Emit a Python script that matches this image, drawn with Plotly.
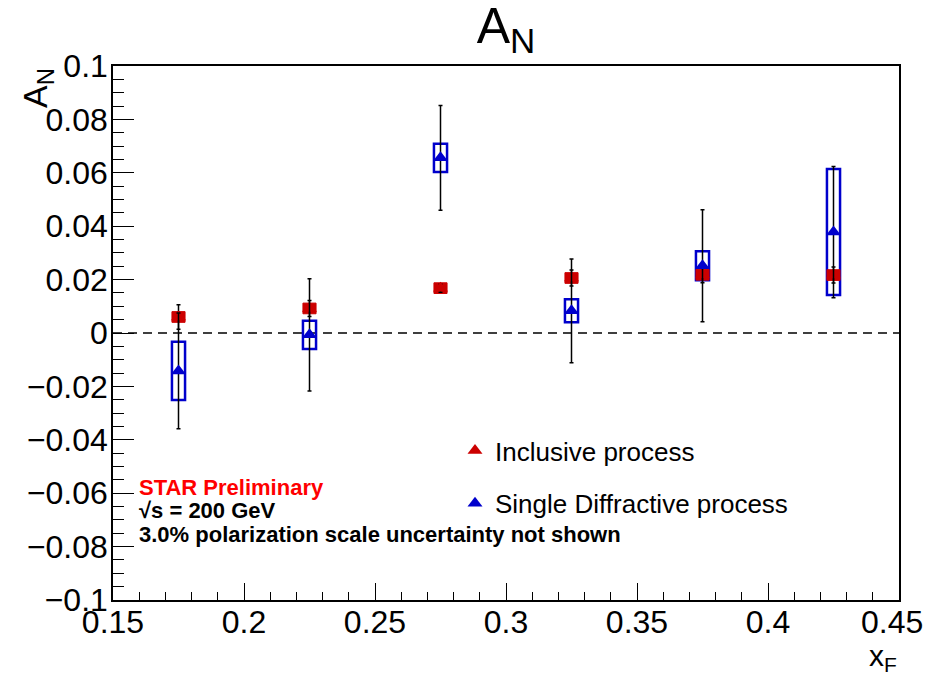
import plotly.graph_objects as go

# ---- data ----
xf = [0.175, 0.225, 0.275, 0.325, 0.375, 0.425]

incl_an = [0.0060, 0.0092, 0.0168, 0.0206, 0.0218, 0.0217]
incl_stat = [0.0046, 0.0030, 0.0015, 0.0030, 0.0030, 0.0030]
incl_sys = [0.0020, 0.0020, 0.0020, 0.0020, 0.0020, 0.0020]

sd_an = [-0.0142, -0.0007, 0.0656, 0.0083, 0.0252, 0.0378]
sd_stat = [0.0217, 0.0210, 0.0196, 0.0194, 0.0210, 0.0246]
sd_sys = [0.0109, 0.0053, 0.0053, 0.0043, 0.0054, 0.0236]

box_width = 0.005

xtick_vals = [0.15, 0.2, 0.25, 0.3, 0.35, 0.4, 0.45]
xtick_text = ["0.15", "0.2", "0.25", "0.3", "0.35", "0.4", "0.45"]
ytick_vals = [-0.1, -0.08, -0.06, -0.04, -0.02, 0, 0.02, 0.04, 0.06, 0.08, 0.1]
ytick_text = ["\u22120.1", "\u22120.08", "\u22120.06", "\u22120.04", "\u22120.02", "0",
              "0.02", "0.04", "0.06", "0.08", "0.1"]

RED = "#cc0000"
BLUE = "#0000cc"
FONT = "Liberation Sans, Arial, Helvetica, sans-serif"

# page has an 8px body margin on every side; keep the figure inside the viewport
OFF = 8
FW, FH = 935 - 2 * OFF, 684 - 2 * OFF

fig = go.Figure()

# systematic boxes (single diffractive: open blue boxes)
fig.add_trace(go.Bar(
    x=xf, y=[2 * s for s in sd_sys], base=[a - s for a, s in zip(sd_an, sd_sys)],
    width=box_width, marker=dict(color="rgba(0,0,0,0)", line=dict(color=BLUE, width=2.5)),
    showlegend=False, hoverinfo="skip"))
# systematic boxes (inclusive: filled red boxes)
fig.add_trace(go.Bar(
    x=xf, y=[2 * s for s in incl_sys], base=[a - s for a, s in zip(incl_an, incl_sys)],
    width=box_width, marker=dict(color=RED, line=dict(color=RED, width=1)),
    showlegend=False, hoverinfo="skip"))

fig.add_trace(go.Scatter(
    x=xf, y=incl_an, mode="markers", name="Inclusive process",
    legendgroup="a",
    marker=dict(symbol="triangle-up", size=13, color=RED),
    error_y=dict(type="data", array=incl_stat, color="black", thickness=1.5, width=2)))
fig.add_trace(go.Scatter(
    x=xf, y=sd_an, mode="markers", name="Single Diffractive process",
    legendgroup="b",
    marker=dict(symbol="triangle-up", size=13, color=BLUE),
    error_y=dict(type="data", array=sd_stat, color="black", thickness=1.5, width=2)))

# dashed zero line
fig.add_shape(type="line", xref="paper", x0=0, x1=1, yref="y", y0=0, y1=0,
              line=dict(color="black", width=1.5, dash="9px,6px"), layer="below")

axis_common = dict(showgrid=False, zeroline=False, showline=True, mirror=True,
                   linecolor="black", linewidth=1.5, ticks="inside", tickcolor="black",
                   tickwidth=1.2, tickfont=dict(family=FONT, size=32, color="black"))

# the last x label sits at the page edge: draw it as a right-aligned text instead
fig.update_xaxes(range=[0.15, 0.45], tickvals=xtick_vals,
                 ticktext=xtick_text[:-1] + [""],
                 ticklen=17, ticklabelstandoff=-7,
                 minor=dict(dtick=0.01, tick0=0.15, ticklen=8, ticks="inside",
                            tickcolor="black", tickwidth=1.2),
                 **axis_common)
fig.update_yaxes(range=[-0.1, 0.1], tickvals=ytick_vals, ticktext=ytick_text,
                 ticklen=21, ticklabelstandoff=-3,
                 minor=dict(dtick=0.005, tick0=0, ticklen=11, ticks="inside",
                            tickcolor="black", tickwidth=1.2),
                 **axis_common)

# plot area in page pixels: x 113..899, y 66..600
L, R, T, B = 113, 899, 66, 600
W, H = R - L, B - T

def px(xp):
    return (xp - L) / W

def py(yp):
    return (B - yp) / H

fig.add_annotation(xref="paper", yref="paper", x=px(925), y=py(622), xanchor="right",
                   yanchor="middle", showarrow=False, text=xtick_text[-1],
                   font=dict(family=FONT, size=32, color="black"))

annos = [
    dict(text="<b>STAR Preliminary</b>", y=487, color="#ff0000"),
    dict(text="<b>\u221As = 200 GeV</b>", y=510, color="black"),
    dict(text="<b>3.0% polarization scale uncertainty not shown</b>", y=534, color="black"),
]
for a in annos:
    fig.add_annotation(xref="paper", yref="paper", xanchor="left", yanchor="middle",
                       showarrow=False, x=px(137), y=py(a["y"]), text=a["text"],
                       font=dict(family=FONT, size=22, color=a["color"]))

# axis titles
fig.add_annotation(xref="paper", yref="paper", x=1.0, y=py(657), xanchor="right", yanchor="middle",
                   showarrow=False, text="x<sub>F</sub>",
                   font=dict(family=FONT, size=30, color="black"))
fig.add_annotation(xref="paper", yref="paper", x=px(37), y=py(88), xanchor="center", yanchor="middle",
                   showarrow=False, text="A<sub>N</sub>", textangle=-90,
                   font=dict(family=FONT, size=34, color="black"))

fig.update_layout(
    width=FW, height=FH,
    margin=dict(l=L - OFF, r=FW - (R - OFF), t=T - OFF, b=FH - (B - OFF)),
    paper_bgcolor="white", plot_bgcolor="white",
    barmode="overlay",
    title=dict(text="A<sub>N</sub>", x=0.5, xref="paper", xanchor="center",
               y=1 - (25 - OFF) / FH, yref="container", yanchor="middle",
               font=dict(family=FONT, size=50, color="black")),
    showlegend=True,
    legend=dict(x=px(455), y=py(427), xanchor="left", yanchor="top",
                bgcolor="rgba(0,0,0,0)", borderwidth=0,
                traceorder="grouped", tracegroupgap=16,
                font=dict(family=FONT, size=26, color="black")),
)

fig.write_html("out.html", config={"displayModeBar": False})
